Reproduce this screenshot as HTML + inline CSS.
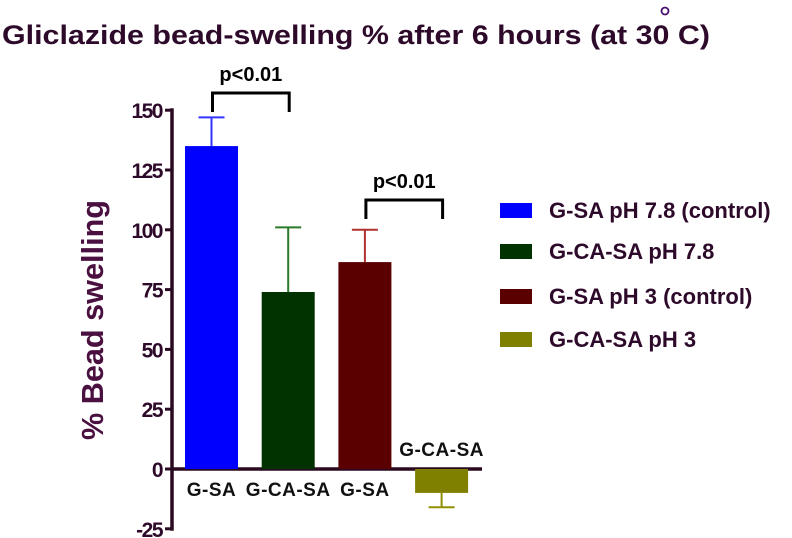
<!DOCTYPE html>
<html><head><meta charset="utf-8"><style>
html,body{margin:0;padding:0;background:#fff;}
svg{display:block;font-family:"Liberation Sans",sans-serif;}
</style></head><body>
<svg id="chart" width="792" height="538" viewBox="0 0 792 538">
<text x="2" y="44" font-size="27" font-weight="bold" fill="#2e0a2a" textLength="708" lengthAdjust="spacingAndGlyphs">Gliclazide bead-swelling % after 6 hours (at 30  C)</text>
<circle cx="665" cy="11" r="3.5" fill="none" stroke="#4a1070" stroke-width="1.8"/>
<text transform="translate(103,320) rotate(-90)" text-anchor="middle" font-size="31" font-weight="bold" fill="#4a1040" textLength="240" lengthAdjust="spacingAndGlyphs">% Bead swelling</text>
<g id="axes"></g>
<g id="bars"></g>
<g id="legend"></g>
</svg>
<script>
const categories = ["G-SA pH 7.8 (control)", "G-CA-SA pH 7.8", "G-SA pH 3 (control)", "G-CA-SA pH 3"];
const barLabels = ["G-SA", "G-CA-SA", "G-SA", "G-CA-SA"];
const means = [135, 74, 86.5, -10];
const errors = [12, 27, 13.5, 6];
const colors = ["#0000ff", "#003300", "#5a0000", "#808000"];
const errColors = ["#3333ff", "#2a7a2a", "#b03030", "#909000"];
const yTicks = [-25, 0, 25, 50, 75, 100, 125, 150];
const pLabels = ["p<0.01", "p<0.01"];

const NS = "http://www.w3.org/2000/svg";
function mk(tag, attrs, parent) { const e = document.createElementNS(NS, tag); for (const k in attrs) e.setAttribute(k, attrs[k]); parent.appendChild(e); return e; }
const y = v => 469 - (v / 25) * 59.8;
const xLeft = i => 185 + i * 76.7;
const bw = 53;
const axes = document.getElementById("axes");
const bars = document.getElementById("bars");
const legend = document.getElementById("legend");
const axisCol = "#2a0a20";

let yl = mk("line", {x1: 172, x2: 172, y1: y(150) - 2, y2: y(-25) + 2, stroke: axisCol, "stroke-width": 3.5}, axes);


yTicks.forEach(t => {
  const tk = mk("line", {x1: 165, x2: 172, y1: y(t), y2: y(t), stroke: axisCol, "stroke-width": 3}, axes);
  
  
  const tl = mk("text", {x: 162, y: y(t) + 8, "text-anchor": "end", "font-size": 21, "font-weight": "bold", fill: "#2e0a2a", "letter-spacing": "-1.5"}, axes);
  tl.textContent = t;
  
  
});

means.forEach((m, i) => {
  const x0 = xLeft(i), cx = x0 + bw / 2;
  const top = Math.min(y(m), y(0)), h = Math.abs(y(m) - y(0));
  const r = mk("rect", {x: x0, y: top, width: bw, height: h, fill: colors[i]}, bars);
  
  
  const ev = m >= 0 ? m + errors[i] : m - errors[i];
  const e1 = mk("line", {x1: cx, x2: cx, y1: y(m), y2: y(ev), stroke: errColors[i], "stroke-width": 2}, bars);
  
  
  const e2 = mk("line", {x1: cx - 13, x2: cx + 13, y1: y(ev), y2: y(ev), stroke: errColors[i], "stroke-width": 2}, bars);
  
  
  const ly = m >= 0 ? y(0) + 27 : y(0) - 13;
  const bl = mk("text", {x: cx, y: ly, "text-anchor": "middle", "font-size": 19, "font-weight": "bold", fill: "#111", "letter-spacing": "0.5"}, bars);
  bl.textContent = barLabels[i];
  
  
});

const zl = mk("line", {x1: 172, x2: 482, y1: y(0), y2: y(0), stroke: axisCol, "stroke-width": 3.5}, axes);



[[0, 1], [2, 3]].forEach((pr, k) => {
  const a = xLeft(pr[0]) + bw / 2 + 1, b = xLeft(pr[1]) + bw / 2 + 1;
  const by = k === 0 ? 93 : 200;
  const p = mk("path", {d: `M${a},${by + 19} V${by} H${b} V${by + 19}`, fill: "none", stroke: "#000", "stroke-width": 3}, bars);
  
  
  const t = mk("text", {x: (a + b) / 2, y: by - 12, "text-anchor": "middle", "font-size": 20, "font-weight": "bold", fill: "#000"}, bars);
  t.textContent = pLabels[k];
  
  
});

const legY = [210, 251, 296, 339];
categories.forEach((c, i) => {
  const s = mk("rect", {x: 500, y: legY[i] - 7, width: 32, height: 15, fill: colors[i]}, legend);
  
  
  const t = mk("text", {x: 549, y: legY[i] + 8, "font-size": 22, "font-weight": "bold", fill: "#2e0a2a"}, legend);
  t.textContent = c;
  
  
});
</script>
</body></html>
